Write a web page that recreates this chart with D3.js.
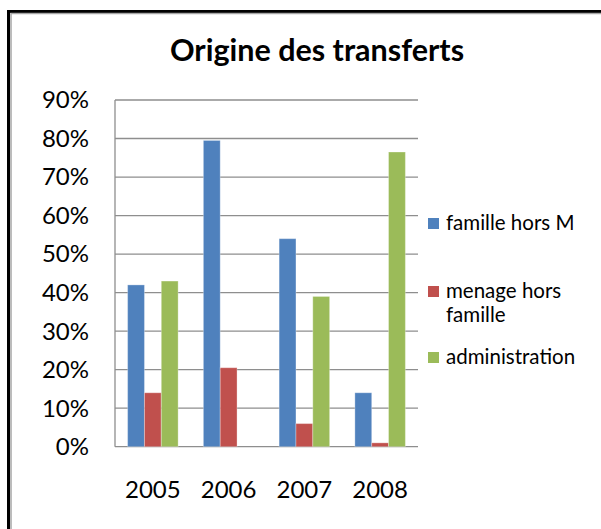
<!DOCTYPE html>
<html>
<head>
<meta charset="utf-8">
<script src="https://cdn.jsdelivr.net/npm/d3@7"></script>
<style>
  body { margin: 0; background: #fff; }
  svg { display: block; font-family: Lato, "Open Sans", sans-serif; }
</style>
</head>
<body>
<div id="chart"></div>
<script>
// données
const annees = ["2005", "2006", "2007", "2008"];
const series = ["famille hors M", "menage hors famille", "administration"];
const familleHorsM = [0.42, 0.795, 0.54, 0.14];
const menageHorsFamille = [0.14, 0.205, 0.06, 0.01];
const administration = [0.43, 0, 0.39, 0.765];
const couleurs = ["#4F81BD", "#C0504D", "#9BBB59"];
const yTicks = [0, 0.1, 0.2, 0.3, 0.4, 0.5, 0.6, 0.7, 0.8, 0.9];

const valeurs = [familleHorsM, menageHorsFamille, administration];

const width = 601, height = 529;
const plot = { left: 115, right: 418, top: 100, bottom: 446.7 };

const svg = d3.select("#chart").append("svg")
    .attr("width", width)
    .attr("height", height);

// cadre du graphique
svg.append("rect")
    .attr("x", 8.5).attr("y", 11.5)
    .attr("width", 700).attr("height", 600)
    .attr("fill", "#fff")
    .attr("stroke", "#000")
    .attr("stroke-width", 3);
svg.append("path")
    .attr("d", "M11,700 V13.5 H700")
    .attr("fill", "none")
    .attr("stroke", "#a6a6a6")
    .attr("stroke-width", 1.5);

// titre
svg.append("text")
    .attr("x", 317)
    .attr("y", 61)
    .attr("text-anchor", "middle")
    .style("font-size", "30.5px")
    .style("font-weight", "bold")
    .attr("fill", "#000")
    .text("Origine des transferts");

// échelles
const x0 = d3.scaleBand()
    .domain(annees)
    .range([plot.left, plot.right])
    .paddingInner(1 / 3)
    .paddingOuter(1 / 6);
const x1 = d3.scaleBand()
    .domain(d3.range(series.length))
    .range([0, x0.bandwidth()]);
const y = d3.scaleLinear()
    .domain([0, 0.9])
    .range([plot.bottom, plot.top]);

// grille horizontale
svg.append("g")
    .selectAll("line")
    .data(yTicks)
    .enter().append("line")
    .attr("x1", plot.left)
    .attr("x2", plot.right)
    .attr("y1", d => y(d))
    .attr("y2", d => y(d))
    .attr("stroke", "#8e8e8e")
    .attr("stroke-width", 1.3);

// axe vertical
svg.append("line")
    .attr("x1", plot.left).attr("x2", plot.left)
    .attr("y1", plot.top).attr("y2", plot.bottom)
    .attr("stroke", "#8e8e8e")
    .attr("stroke-width", 1.3);

// libellés de l'axe Y
svg.append("g")
    .selectAll("text")
    .data(yTicks)
    .enter().append("text")
    .attr("x", 89)
    .attr("y", d => y(d))
    .attr("dy", "0.35em")
    .attr("text-anchor", "end")
    .style("font-size", "24px")
    .attr("fill", "#000")
    .text(d => d3.format(".0%")(d));

// barres
const groupes = svg.append("g")
    .selectAll("g")
    .data(annees)
    .enter().append("g")
    .attr("transform", d => "translate(" + x0(d) + ",0)");

groupes.selectAll("rect")
    .data((d, i) => valeurs.map((v, s) => ({ s: s, v: v[i] })))
    .enter().append("rect")
    .attr("x", d => x1(d.s))
    .attr("width", x1.bandwidth())
    .attr("y", d => y(d.v))
    .attr("height", d => plot.bottom - y(d.v))
    .attr("fill", d => couleurs[d.s])
    .attr("stroke", "rgba(255,255,255,0.3)")
    .attr("stroke-width", 1);

// libellés de l'axe X
svg.append("g")
    .selectAll("text")
    .data(annees)
    .enter().append("text")
    .attr("x", d => x0(d) + x0.bandwidth() / 2)
    .attr("y", 498)
    .attr("text-anchor", "middle")
    .style("font-size", "24px")
    .attr("fill", "#000")
    .text(d => d);

// légende
const legendeY = [224, 292, 358];
const legende = svg.append("g")
    .selectAll("g")
    .data(series)
    .enter().append("g")
    .attr("transform", (d, i) => "translate(428," + legendeY[i] + ")");

legende.append("rect")
    .attr("y", -6)
    .attr("width", 11)
    .attr("height", 11)
    .attr("fill", (d, i) => couleurs[i]);

legende.append("text")
    .attr("x", 18)
    .attr("y", 6)
    .style("font-size", "20.5px")
    .attr("fill", "#000")
    .each(function (d) {
        const t = d3.select(this);
        const lignes = d === "menage hors famille" ? ["menage hors", "famille"] : [d];
        lignes.forEach((l, k) => {
            t.append("tspan")
                .attr("x", 18)
                .attr("dy", k === 0 ? 0 : 24)
                .text(l);
        });
    });
</script>
</body>
</html>
